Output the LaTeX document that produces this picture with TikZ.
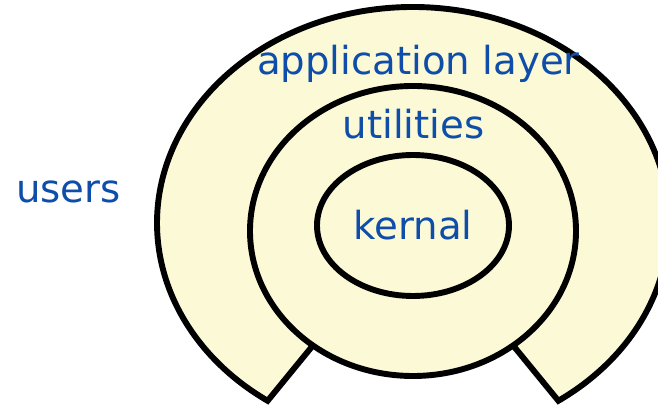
\documentclass[tikz,border=0pt]{standalone}
\usepackage{fontspec}
\setmainfont{DejaVu Sans}
\usepackage{xcolor}
\usepackage{tikz}
\usetikzlibrary{positioning, calc}
\definecolor{layerfill}{RGB}{251,249,214}
\definecolor{layertext}{RGB}{14,78,170}
\tikzset{
    layer/.style = {draw=black, line width=4.2pt, fill=layerfill},
    layer_text/.style = {text=layertext, inner sep=0pt, anchor=base,
        font=\fontsize{27.5}{32}\selectfont},
}

\begin{document}
\begin{tikzpicture}
    \useasboundingbox (0,0) rectangle (16.45,10.225);
    \clip (0,0) rectangle (16.45,10.225);
    \coordinate (outer) at (10.325,4.65);
    \coordinate (middle) at (10.325,4.45);
    \coordinate (inner) at (10.325,4.5875);
    % outer ring with the gap at the bottom
    \draw [layer] (outer) -- ($(outer)+(-55.4:6.4cm and 5.4cm)$)
        arc[start angle=-55.4, end angle=235.4, x radius=6.4cm, y radius=5.4cm] -- cycle;
    \draw [layer] (middle) ellipse [x radius=4.075cm, y radius=3.625cm];
    \draw [layer] (inner) ellipse [x radius=2.4cm, y radius=1.7625cm];
    \node (users) [layer_text] at (1.7125,5.15) {users};
    \node (app) [layer_text] at (10.46,8.35) {application layer};
    \node (util) [layer_text] at (10.34,6.75) {utilities};
    \node (kern) [layer_text] at (10.325,4.225) {kernal};
\end{tikzpicture}
\end{document}
